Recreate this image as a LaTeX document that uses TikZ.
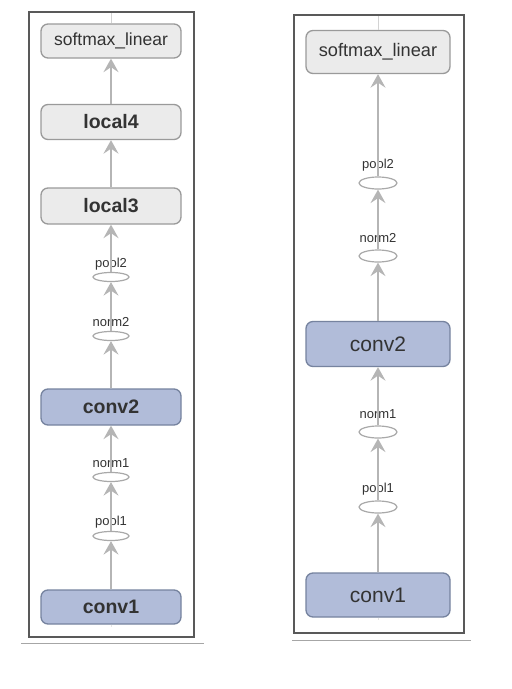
\documentclass[tikz,border=0pt]{standalone}
\usepackage{fontspec}
\setmainfont{Liberation Sans}
\usetikzlibrary{arrows.meta,shapes.geometric}
\definecolor{boxfill}{HTML}{EBEBEB}
\definecolor{boxline}{HTML}{9A9A9A}
\definecolor{convfill}{HTML}{B1BCD9}
\definecolor{convline}{HTML}{76839F}
\definecolor{edgecol}{HTML}{B5B5B5}
\definecolor{txt}{HTML}{333333}
\begin{document}
\begin{tikzpicture}[x=1pt,y=-1pt,
  box/.style={draw=boxline, fill=boxfill, rounded corners=7pt, line width=1.3pt, minimum width=140pt, minimum height=34pt, inner sep=0pt, text=txt},
  conv/.style={box, draw=convline, fill=convfill},
  rbox/.style={box, minimum width=144pt, minimum height=43pt},
  rconv/.style={conv, minimum width=144pt, minimum height=45pt},
  op/.style={ellipse, draw=boxline!85, fill=white, line width=1.2pt, minimum width=36pt, minimum height=9pt, inner sep=0pt},
  rop/.style={op, minimum width=38pt, minimum height=12pt},
  oplabel/.style={font=\fontsize{13}{13}\selectfont, text=txt, inner sep=0pt},
  lbig/.style={font=\fontsize{19.5}{20}\selectfont\bfseries},
  lsoft/.style={font=\fontsize{17.5}{18}\selectfont},
  rbig/.style={font=\fontsize{21}{22}\selectfont},
  rsoft/.style={font=\fontsize{18.2}{19}\selectfont},
  flow/.style={draw=edgecol, line width=1.5pt, -{Stealth[length=13.5pt,width=15pt,inset=5pt]}},
  stub/.style={draw=edgecol!60, line width=1pt},
  frame/.style={draw=black!65, line width=1.2pt},
  rule/.style={draw=black!35, line width=0.8pt}
]
\useasboundingbox (0,0) rectangle (512,689);
\fill[white] (0,0) rectangle (512,689);

% ---------- left panel ----------
\draw[frame] (29,12) rectangle (194,637);
\draw[rule] (21,643) -- (204,643);

\node[box, lsoft] (Lsoft) at (111,41) {softmax\_linear};
\node[box, lbig, minimum height=35pt] (Lloc4) at (111,122) {local4};
\node[box, lbig, minimum height=36pt] (Lloc3) at (111,206) {local3};
\node[op] (Lpool2) at (111,277) {};
\node[oplabel] (Lpool2t) at (111,264) {pool2};
\node[op] (Lnorm2) at (111,336) {};
\node[oplabel] (Lnorm2t) at (111,322) {norm2};
\node[conv, lbig, minimum height=36pt] (Lconv2) at (111,407) {conv2};
\node[op] (Lnorm1) at (111,477) {};
\node[oplabel] (Lnorm1t) at (111,463) {norm1};
\node[op] (Lpool1) at (111,536) {};
\node[oplabel] (Lpool1t) at (111,522) {pool1};
\node[conv, lbig] (Lconv1) at (111,607) {conv1};

\coordinate (Ltop) at (111,13);
\coordinate (Lbot) at (111,627);
\draw[stub] (Ltop) -- (Lsoft.north);
\draw[stub, draw=edgecol!35] (Lconv1.south) -- (Lbot);

\draw[flow] (Lconv1) -- (Lpool1);
\draw[flow] (Lpool1) -- (Lnorm1);
\draw[flow] (Lnorm1) -- (Lconv2);
\draw[flow] (Lconv2) -- (Lnorm2);
\draw[flow] (Lnorm2) -- (Lpool2);
\draw[flow] (Lpool2) -- (Lloc3);
\draw[flow] (Lloc3) -- (Lloc4);
\draw[flow] (Lloc4) -- (Lsoft);

% ---------- right panel ----------
\draw[frame] (294,15) rectangle (464,633);
\draw[rule] (292,640) -- (471,640);

\node[rbox, rsoft] (Rsoft) at (378,52) {softmax\_linear};
\node[rop] (Rpool2) at (378,183) {};
\node[oplabel] (Rpool2t) at (378,165) {pool2};
\node[rop] (Rnorm2) at (378,256) {};
\node[oplabel] (Rnorm2t) at (378,238) {norm2};
\node[rconv, rbig] (Rconv2) at (378,344) {conv2};
\node[rop] (Rnorm1) at (378,432) {};
\node[oplabel] (Rnorm1t) at (378,414) {norm1};
\node[rop] (Rpool1) at (378,507) {};
\node[oplabel] (Rpool1t) at (378,489) {pool1};
\node[rconv, rbig, minimum height=44pt] (Rconv1) at (378,595) {conv1};

\coordinate (Rtop) at (378,16);
\coordinate (Rbot) at (378,620);
\draw[stub] (Rtop) -- (Rsoft.north);
\draw[stub, draw=edgecol!35] (Rconv1.south) -- (Rbot);

\draw[flow] (Rconv1) -- (Rpool1);
\draw[flow] (Rpool1) -- (Rnorm1);
\draw[flow] (Rnorm1) -- (Rconv2);
\draw[flow] (Rconv2) -- (Rnorm2);
\draw[flow] (Rnorm2) -- (Rpool2);
\draw[flow] (Rpool2) -- (Rsoft);
\end{tikzpicture}
\end{document}
